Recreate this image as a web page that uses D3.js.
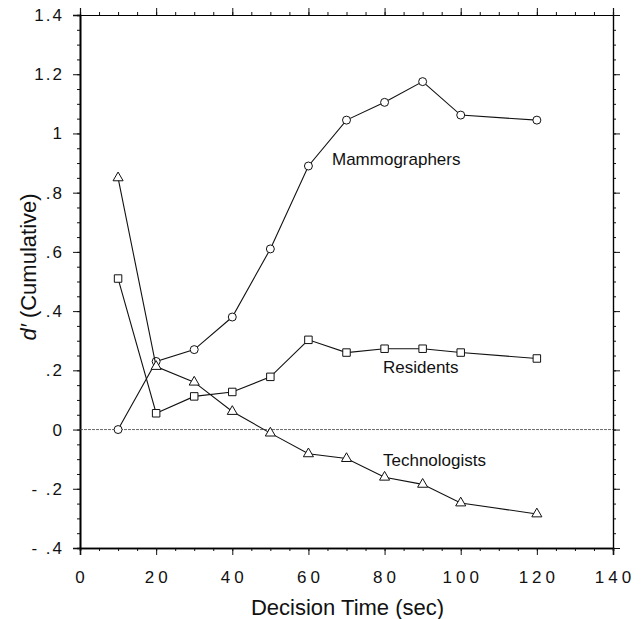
<!DOCTYPE html>
<html>
<head>
<meta charset="utf-8">
<script src="https://cdn.jsdelivr.net/npm/d3@7"></script>
<style>
  body { margin: 0; background: #fff; }
  text { font-family: "Liberation Sans", Arial, sans-serif; fill: #111; }
</style>
</head>
<body>
<script>
const w = 643;
const h = 619;
const margin = {top: 15, right: 30, bottom: 71, left: 80};

// decision time (sec)
const times = [10, 20, 30, 40, 50, 60, 70, 80, 90, 100, 120];
// d' (cumulative) per reader group
const mammographers = [0.0, 0.23, 0.27, 0.38, 0.61, 0.89, 1.045, 1.105, 1.175, 1.062, 1.045];
const residents = [0.51, 0.055, 0.112, 0.127, 0.178, 0.303, 0.26, 0.273, 0.273, 0.26, 0.24];
const technologists = [0.85, 0.213, 0.16, 0.061, -0.012, -0.082, -0.098, -0.161, -0.185, -0.248, -0.285];

const xTicks = [0, 20, 40, 60, 80, 100, 120, 140];
const yTicks = [-0.4, -0.2, 0, 0.2, 0.4, 0.6, 0.8, 1, 1.2, 1.4];
const yTickLabels = ["- .4", "- .2", "0", ".2", ".4", ".6", ".8", "1", "1.2", "1.4"];

const groups = [
  {name: "Mammographers", values: mammographers, symbol: d3.symbolCircle, size: 50, lx: 332, ly: 165},
  {name: "Residents", values: residents, symbol: d3.symbolSquare, size: 56, lx: 383, ly: 373},
  {name: "Technologists", values: technologists, symbol: d3.symbolTriangle, size: 44, lx: 383, ly: 466}
];

const svg = d3.select("body")
  .append("svg")
  .attr("width", w)
  .attr("height", h);

const xScale = d3.scaleLinear()
  .domain([0, 140])
  .range([margin.left, w - margin.right]);

const yScale = d3.scaleLinear()
  .domain([-0.4, 1.4])
  .range([h - margin.bottom, margin.top]);

const minorX = d3.range(0, 141, 5);
const minorY = d3.range(-0.4, 1.401, 0.05);

// axes on all four sides, ticks pointing outward
function frame(axis, pos, major, minor, width) {
  const g = svg.append("g")
    .attr("transform", pos)
    .call(axis.tickValues(minor).tickSize(3).tickFormat(""));
  g.append("g")
    .call(axis.tickValues(major).tickSize(7).tickFormat(""));
  g.selectAll("path").attr("stroke-width", width);
  g.selectAll("line").attr("stroke", "#111");
  return g;
}

frame(d3.axisBottom(xScale), "translate(0," + (h - margin.bottom) + ")", xTicks, minorX, 1.6);
frame(d3.axisTop(xScale), "translate(0," + margin.top + ")", xTicks, minorX, 1.2);
frame(d3.axisLeft(yScale), "translate(" + margin.left + ",0)", yTicks, minorY, 1.6);
frame(d3.axisRight(yScale), "translate(" + (w - margin.right) + ",0)", yTicks, minorY, 1.2);

// tick labels
svg.selectAll(".xlab")
  .data(xTicks)
  .enter()
  .append("text")
  .attr("class", "xlab")
  .attr("x", function(d) { return xScale(d) + 2; })
  .attr("y", h - margin.bottom + 35)
  .attr("text-anchor", "middle")
  .style("font-size", "17px")
  .style("letter-spacing", "4px")
  .text(function(d) { return d; });

svg.selectAll(".ylab")
  .data(yTicks)
  .enter()
  .append("text")
  .attr("class", "ylab")
  .attr("x", margin.left - 16)
  .attr("y", function(d) { return yScale(d) + 6; })
  .attr("text-anchor", "end")
  .style("font-size", "17px")
  .style("letter-spacing", "2px")
  .text(function(d, i) { return yTickLabels[i]; });

// zero reference line
svg.append("line")
  .attr("x1", margin.left)
  .attr("x2", w - margin.right)
  .attr("y1", yScale(0))
  .attr("y2", yScale(0))
  .attr("stroke", "#444")
  .attr("stroke-width", 0.8)
  .attr("stroke-dasharray", "3,1");

const line = d3.line()
  .x(function(d, i) { return xScale(times[i]); })
  .y(function(d) { return yScale(d); });

groups.forEach(function(grp) {
  svg.append("path")
    .datum(grp.values)
    .attr("d", line)
    .attr("fill", "none")
    .attr("stroke", "#111")
    .attr("stroke-width", 1.1);

  svg.selectAll(".pt-" + grp.name)
    .data(grp.values)
    .enter()
    .append("path")
    .attr("d", d3.symbol().type(grp.symbol).size(grp.size))
    .attr("transform", function(d, i) {
      return "translate(" + xScale(times[i]) + "," + yScale(d) + ")";
    })
    .attr("fill", "#fff")
    .attr("stroke", "#111")
    .attr("stroke-width", 1);

  svg.append("text")
    .attr("x", grp.lx)
    .attr("y", grp.ly)
    .style("font-size", "17px")
    .text(grp.name);
});

// axis titles
svg.append("text")
  .attr("x", (margin.left + w - margin.right) / 2 + 1)
  .attr("y", 615)
  .attr("text-anchor", "middle")
  .style("font-size", "22px")
  .text("Decision Time (sec)");

const yt = svg.append("text")
  .attr("transform", "translate(36,267) rotate(-90)")
  .attr("text-anchor", "middle")
  .style("font-size", "22px");
yt.append("tspan").style("font-style", "italic").text("d\u2032");
yt.append("tspan").text(" (Cumulative)");
</script>
</body>
</html>
